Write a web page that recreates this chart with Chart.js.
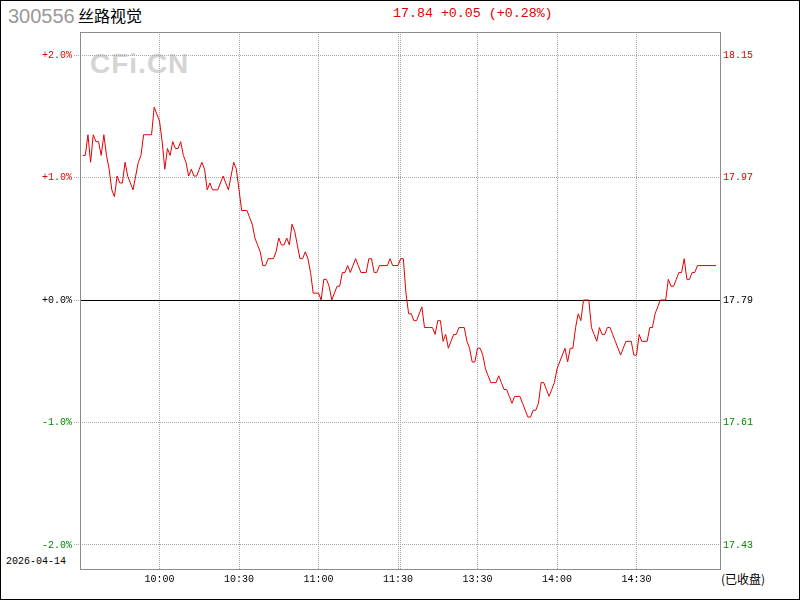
<!DOCTYPE html>
<html>
<head>
<meta charset="utf-8">
<script src="https://cdn.jsdelivr.net/npm/chart.js@4"></script>
<style>
  body { margin: 0; background: #fff; }
  #wrap { position: relative; width: 800px; height: 600px; overflow: hidden; }
  #wrap div { position: absolute; white-space: nowrap; }
  canvas { position: absolute; left: 0; top: 0; }
  .mono { font-family: "Liberation Mono", "DejaVu Sans Mono", monospace; }
</style>
</head>
<body>
<div id="wrap">
  <div id="wm" style="left:90px;top:48px;font:bold 28px 'Liberation Sans',Arial,sans-serif;color:#d4d4d4;letter-spacing:1px;">CFi.CN</div>
  <div id="code" style="left:8px;top:5px;font:20px 'Liberation Sans',Arial,sans-serif;color:#999;">300556</div>
  <div id="name" style="left:78px;top:3px;font:16px 'Noto Sans CJK SC',sans-serif;color:#000;">丝路视觉</div>
  <div id="quote" class="mono" style="left:393px;top:6px;font-size:13.3px;color:#e00000;"></div>
  <div id="date" class="mono" style="left:6px;top:556px;font-size:10px;color:#000;">2026-04-14</div>
  <div id="closed" style="left:721px;top:570px;font:12px 'Noto Sans CJK SC',sans-serif;color:#000;">(已收盘)</div>
  <canvas id="c" width="800" height="600"></canvas>
</div>
<script>
// previous close and intraday prices (minutes after 9:30, lunch break removed)
const prevClose = 17.79;
const minutes = [1,2,3,4,5,6,7,8,9,10,11,12,13,14,15,16,17,18,19,20,21,22,23,24,27,28,29,30,31,32,33,34,35,36,37,38,39,40,41,42,43,44,45,46,47,48,49,50,52,53,54,55,56,57,58,59,60,61,63,64,65,66,67,68,69,70,71,73,74,75,76,77,78,79,80,81,82,83,84,85,86,87,88,90,91,92,93,94,95,96,97,98,99,100,101,102,103,104,105,106,108,109,110,111,112,113,116,117,118,120,
  121,122,123,124,125,126,127,128,129,130,132,133,134,135,136,137,138,139,140,141,142,143,145,146,147,148,149,150,151,152,153,154,155,157,158,159,160,161,162,163,164,166,167,168,169,170,171,172,173,174,175,176,177,178,179,180,181,182,183,184,185,186,187,188,189,190,191,192,193,194,195,196,197,198,199,200,201,202,203,204,205,206,208,209,210,211,212,214,215,216,217,218,219,221,222,223,224,225,226,227,228,229,230,231,232,233,240];
const prices = [18.00,18.00,18.03,17.99,18.03,18.02,18.02,18.00,18.03,18.00,17.98,17.95,17.94,17.97,17.96,17.96,17.99,17.97,17.96,17.95,17.97,17.99,18.00,18.03,18.03,18.07,18.06,18.05,18.02,17.98,18.01,18.00,18.02,18.01,18.01,18.02,18.00,17.99,17.97,17.98,17.97,17.97,17.98,17.99,17.98,17.95,17.96,17.95,17.95,17.96,17.97,17.96,17.95,17.97,17.99,17.98,17.95,17.92,17.92,17.91,17.90,17.88,17.87,17.86,17.84,17.84,17.85,17.85,17.86,17.88,17.87,17.87,17.88,17.87,17.90,17.89,17.87,17.85,17.85,17.86,17.85,17.83,17.80,17.80,17.79,17.82,17.82,17.81,17.79,17.80,17.81,17.81,17.83,17.83,17.84,17.83,17.84,17.85,17.84,17.83,17.83,17.85,17.85,17.83,17.83,17.84,17.84,17.85,17.84,17.84,
  17.85,17.85,17.80,17.77,17.77,17.76,17.76,17.77,17.78,17.75,17.75,17.75,17.74,17.76,17.76,17.73,17.74,17.72,17.73,17.74,17.74,17.75,17.75,17.73,17.72,17.70,17.70,17.72,17.72,17.71,17.69,17.68,17.67,17.67,17.68,17.67,17.66,17.66,17.65,17.64,17.65,17.65,17.64,17.63,17.62,17.62,17.63,17.63,17.64,17.67,17.67,17.66,17.65,17.66,17.67,17.69,17.70,17.71,17.72,17.70,17.72,17.72,17.75,17.77,17.76,17.79,17.79,17.79,17.75,17.74,17.73,17.75,17.74,17.74,17.75,17.75,17.74,17.73,17.72,17.71,17.72,17.73,17.73,17.71,17.71,17.74,17.73,17.73,17.75,17.75,17.77,17.78,17.79,17.79,17.82,17.81,17.81,17.82,17.83,17.83,17.85,17.82,17.82,17.83,17.83,17.84,17.84];
const tickMinutes = [30, 60, 90, 120, 121, 150, 180, 210];
const tickLabels = ["10:00", "10:30", "11:00", "11:30", "", "13:30", "14:00", "14:30"];
const pctTicks = [2, 1, 0, -1, -2];

const last = prices[prices.length - 1];
const chg = last - prevClose;
const sign = chg >= 0 ? "+" : "-";
document.getElementById("quote").textContent =
  last.toFixed(2) + " " + sign + Math.abs(chg).toFixed(2) + " (" + sign + Math.abs(chg / prevClose * 100).toFixed(2) + "%)";

const yMin = prevClose * (1 - 2.196 / 100);
const yMax = prevClose * (1 + 2.188 / 100);
const pctOf = v => Math.round((v / prevClose - 1) * 1000) / 10;
const tickColor = v => { const p = pctOf(v); return p > 0 ? "#e00000" : p < 0 ? "#008800" : "#000"; };
const setPctTicks = s => { s.ticks = pctTicks.map(p => ({ value: prevClose * (1 + p / 100) })); };

const frame = {
  id: "frame",
  beforeDatasetsDraw(chart) {
    const { ctx, chartArea: a, scales } = chart;
    const y0 = Math.round(scales.y.getPixelForValue(prevClose)) + 0.5;
    ctx.save();
    ctx.strokeStyle = "#000";
    ctx.lineWidth = 1;
    ctx.beginPath();
    ctx.moveTo(a.left, y0);
    ctx.lineTo(a.right, y0);
    ctx.stroke();
    ctx.restore();
  },
  afterDraw(chart) {
    const { ctx, chartArea: a } = chart;
    ctx.save();
    ctx.lineWidth = 1;
    ctx.strokeStyle = "#8c8c8c";
    ctx.strokeRect(Math.round(a.left) + 0.5, Math.round(a.top) + 0.5, Math.round(a.right - a.left), Math.round(a.bottom - a.top));
    ctx.strokeStyle = "#000";
    ctx.strokeRect(0.5, 0.5, 799, 599);
    ctx.restore();
  }
};

Chart.defaults.font.family = "'Liberation Mono', 'DejaVu Sans Mono', monospace";
Chart.defaults.font.size = 10;

new Chart(document.getElementById("c"), {
  type: "line",
  data: {
    datasets: [{
      data: minutes.map((m, i) => ({ x: m, y: prices[i] })),
      borderColor: "#e00000",
      borderWidth: 1,
      pointRadius: 0,
      tension: 0,
      fill: false
    }]
  },
  options: {
    responsive: false,
    animation: false,
    layout: { padding: { top: 32, left: 0, right: 0, bottom: 0 } },
    plugins: { legend: { display: false }, tooltip: { enabled: false } },
    scales: {
      x: {
        type: "linear",
        min: 0,
        max: 241.5,
        afterBuildTicks: s => { s.ticks = tickMinutes.map(v => ({ value: v })); },
        afterFit: s => { s.height = 31; },
        border: { display: false, dash: [1, 1] },
        grid: { color: "#a8a8a8", drawTicks: false },
        ticks: {
          padding: 4,
          color: "#000",
          autoSkip: false,
          maxRotation: 0,
          callback: (v, i) => tickLabels[i]
        }
      },
      y: {
        position: "left",
        min: yMin,
        max: yMax,
        afterBuildTicks: setPctTicks,
        afterFit: s => { s.width = 80; },
        border: { display: false, dash: [1, 1] },
        grid: {
          color: c => Math.abs(pctOf(c.tick.value)) < 0.05 ? "rgba(0,0,0,0)" : "#a8a8a8",
          tickColor: "#a8a8a8",
          tickLength: 6,
          tickBorderDash: [1, 1]
        },
        ticks: {
          padding: 2,
          color: c => tickColor(c.tick.value),
          callback: v => { const p = pctOf(v); return (p >= 0 ? "+" : "-") + Math.abs(p).toFixed(1) + "%"; }
        }
      },
      y1: {
        position: "right",
        min: yMin,
        max: yMax,
        afterBuildTicks: setPctTicks,
        afterFit: s => { s.width = 80; },
        border: { display: false },
        grid: { display: false, drawTicks: false },
        ticks: {
          padding: 3,
          color: c => tickColor(c.tick.value),
          callback: v => v.toFixed(2)
        }
      }
    }
  },
  plugins: [frame]
});
</script>
</body>
</html>
